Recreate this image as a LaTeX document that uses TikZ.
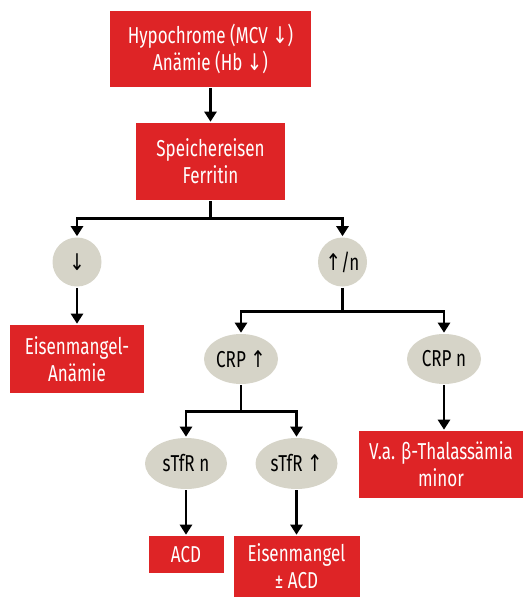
\documentclass[tikz,border=0pt]{standalone}
\usepackage{fontspec}
\setmainfont{Fira Sans}[FakeStretch=0.74]
\newfontfamily\arrowfont{DejaVu Sans}[FakeStretch=0.8]
\usetikzlibrary{shapes,arrows.meta}
\definecolor{boxred}{RGB}{222,36,38}
\definecolor{ovalgray}{RGB}{214,212,200}
\newcommand{\dn}{{\arrowfont\char"2193}}
\newcommand{\up}{{\arrowfont\char"2191}}

\begin{document}
\begin{tikzpicture}
[
x=1pt, y=1pt, line width=2.6pt, >={Triangle[width=12pt,length=10pt]},
font=\fontsize{23}{27}\selectfont,
result/.style = {fill=boxred, text=white, align=center, inner sep=0pt},
test/.style   = {fill=ovalgray, ellipse, align=center, inner sep=0pt},
]
\useasboundingbox (0,0) rectangle (523,-597);

\node at (210.5,-49)[result, minimum width=201, minimum height=76] (hypo) {Hypochrome (MCV \dn)\\Anämie (Hb \dn)};
\node at (210.5,-161.5)[result, minimum width=149, minimum height=77] (ferr) {Speichereisen\\Ferritin};
\node at (77,-262)[test, circle, minimum size=49] (low) {\dn};
\node at (342.5,-262)[test, circle, minimum size=49] (high) {\up/n};
\node at (77,-359)[result, minimum width=134, minimum height=68] (ida) {Eisenmangel-\\Anämie};
\node at (241,-359)[test, minimum width=74, minimum height=50] (crpup) {CRP \up};
\node at (444,-359)[test, minimum width=74, minimum height=50] (crpn) {CRP n};
\node at (186,-463.5)[test, minimum width=82, minimum height=51] (stfrn) {sTfR n};
\node at (296.5,-463.5)[test, minimum width=82, minimum height=51] (stfrup) {sTfR \up};
\node at (441,-464.5)[result, minimum width=164, minimum height=67] (thal) {V.a. β-Thalassämia\\minor};
\node at (186,-554.5)[result, minimum width=75, minimum height=37] (acd) {ACD};
\node at (296.5,-566.5)[result, minimum width=126, minimum height=61] (idaacd) {Eisenmangel\\± ACD};

\draw[->] (hypo) -- (ferr);
\draw[->] (ferr.south) -- ++(0,-17) -| (low);
\draw[->] (ferr.south) -- ++(0,-17) -| (high);
\draw[->] (low) -- (ida);
\draw[->] (high.south) -- ++(0,-23.5) -| (crpup);
\draw[->] (high.south) -- ++(0,-23.5) -| (crpn);
\draw[->] (crpn) -- (crpn |- thal.north);
\draw[->] (crpup.south) -- ++(0,-26) -| (stfrn);
\draw[->] (crpup.south) -- ++(0,-26) -| (stfrup);
\draw[->] (stfrn) -- (acd);
\draw[->] (stfrup) -- (idaacd);
\end{tikzpicture}
\end{document}
